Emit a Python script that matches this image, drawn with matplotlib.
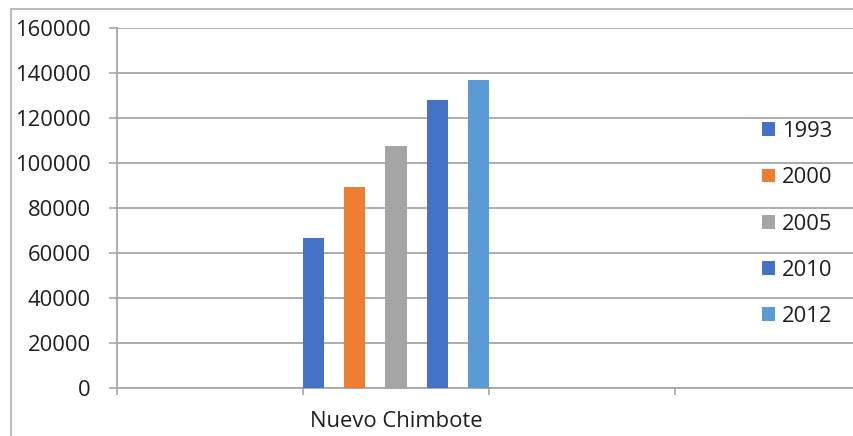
import numpy as np
import matplotlib.pyplot as plt
from matplotlib.patches import Rectangle, Patch

plt.rcParams['font.family'] = ['Open Sans', 'DejaVu Sans']

categories = ['', 'Nuevo Chimbote', '', '']
years = ['1993', '2000', '2005', '2010', '2012']
values = [66500, 89200, 107600, 128100, 137000]
colors = ['#4472C4', '#ED7D31', '#A5A5A5', '#4472C4', '#5B9BD5']

W, H = 854, 436
fig = plt.figure(figsize=(W / 100, H / 100), dpi=100)

# chart area border (cropped on right and bottom)
fig.patches.append(Rectangle((11 / W, -0.2), 1.2, 1.2 - 9 / H, transform=fig.transFigure,
                             fill=False, edgecolor='#b0b0b0', linewidth=1.2))

ax = fig.add_axes([117 / W, (H - 388) / H, (861 - 117) / W, 360 / H])

grid_c = '#a6a6a6'
txt_c = '#1e1e1e'
fs = 15.8
cat_idx = categories.index('Nuevo Chimbote')
step = 0.2225
offsets = (np.arange(len(years)) - (len(years) - 1) / 2) * step
for i, (yr, v, c) in enumerate(zip(years, values, colors)):
    ax.bar(cat_idx + offsets[i], v, width=0.113, color=c, zorder=3, label=yr)

ax.set_xlim(-0.5, len(categories) - 0.5)
ax.set_ylim(0, 160000)
ax.set_yticks(np.arange(0, 160001, 20000))
ax.yaxis.grid(True, color=grid_c, linewidth=1.3, zorder=0)
ax.set_axisbelow(True)

ax.set_xticks(np.arange(len(categories) + 1) - 0.5)
ax.set_xticklabels([])
ax.set_xticks(np.arange(len(categories)), minor=True)
ax.set_xticklabels(categories, minor=True)
ax.tick_params(axis='x', which='major', length=5, width=1.2, color=grid_c, direction='out')
ax.tick_params(axis='x', which='minor', length=0, pad=16.5, labelsize=fs, labelcolor=txt_c)
ax.tick_params(axis='y', length=6, width=1.2, color=grid_c, pad=13, labelsize=fs, labelcolor=txt_c)

for s in ['top', 'right']:
    ax.spines[s].set_visible(False)
ax.spines['left'].set_color(grid_c)
ax.spines['bottom'].set_color(grid_c)
ax.spines['left'].set_linewidth(1.3)
ax.spines['bottom'].set_linewidth(1.3)

handles = [Patch(facecolor=c, edgecolor='none') for c in colors]
fig.legend(handles, years, loc='center left', bbox_to_anchor=(762 / W, 1 - 224 / H),
           frameon=False, fontsize=fs, handlelength=0.6, handleheight=0.6,
           handletextpad=0.3, labelspacing=1.15, borderpad=0, borderaxespad=0,
           labelcolor=txt_c)

fig.savefig('out.png', dpi=100)
